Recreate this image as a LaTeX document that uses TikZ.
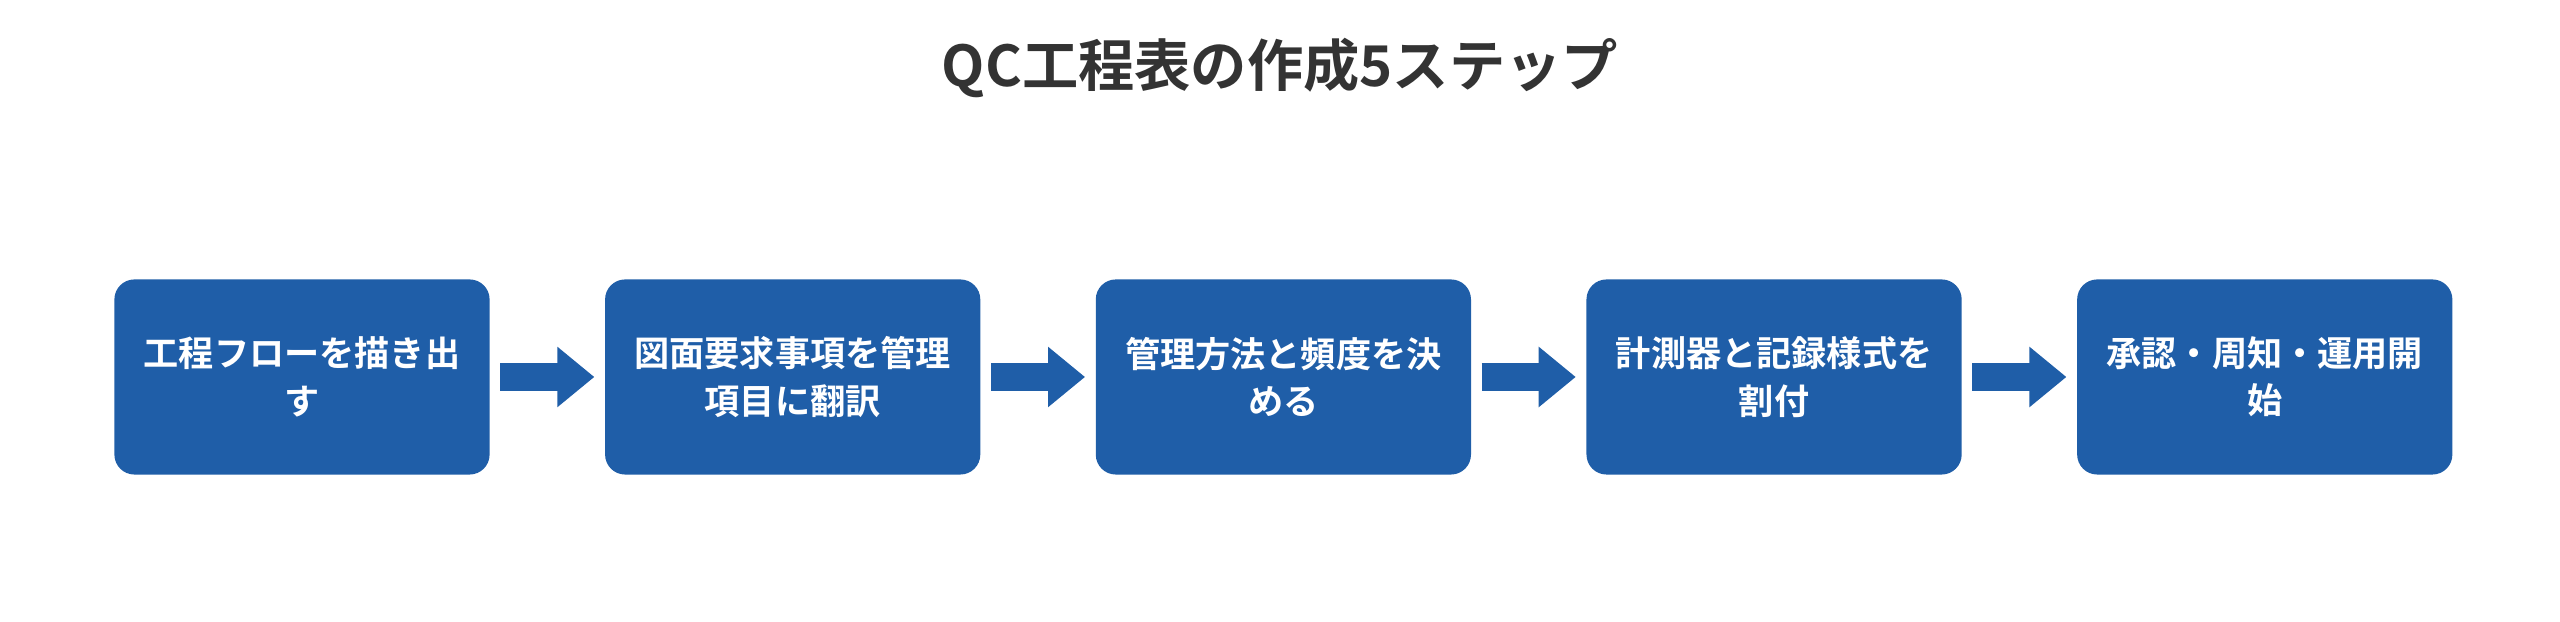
\documentclass[tikz,border=0pt]{standalone}
\usepackage{fontspec}
\newfontfamily\jp{Noto Sans CJK JP}[BoldFont={* Bold}]
\usetikzlibrary{positioning,arrows.meta}
\definecolor{stepblue}{HTML}{1F5EA8}
\definecolor{titlegray}{HTML}{333333}
\begin{document}
\begin{tikzpicture}[x=0.01cm,y=0.01cm,
    stepbox/.style={fill=stepblue, rounded corners=0.2cm, minimum width=3.75cm,
        minimum height=1.95cm, text width=3.4cm, align=center, text=white,
        font=\jp\bfseries\fontsize{10}{13.5}\selectfont},
    flow/.style={stepblue, line width=0.28cm, shorten <=0.1cm, shorten >=0.1cm,
        -{Triangle[length=0.37cm,width=0.58cm]}}]
    \useasboundingbox (0,0) rectangle (2560,622);
    \node[font=\jp\bfseries\fontsize{16}{18}\selectfont, text=titlegray] (title) at (1280,554) {QC工程表の作成5ステップ};
    \node[stepbox] (s1) at (302,245) {工程フローを描き出\\す};
    \node[stepbox, right=1.14cm of s1] (s2) {図面要求事項を管理\\項目に翻訳};
    \node[stepbox, right=1.14cm of s2] (s3) {管理方法と頻度を決\\める};
    \node[stepbox, right=1.14cm of s3] (s4) {計測器と記録様式を\\割付};
    \node[stepbox, right=1.14cm of s4] (s5) {承認・周知・運用開\\始};
    \draw[flow] (s1) -- (s2);
    \draw[flow] (s2) -- (s3);
    \draw[flow] (s3) -- (s4);
    \draw[flow] (s4) -- (s5);
\end{tikzpicture}
\end{document}
